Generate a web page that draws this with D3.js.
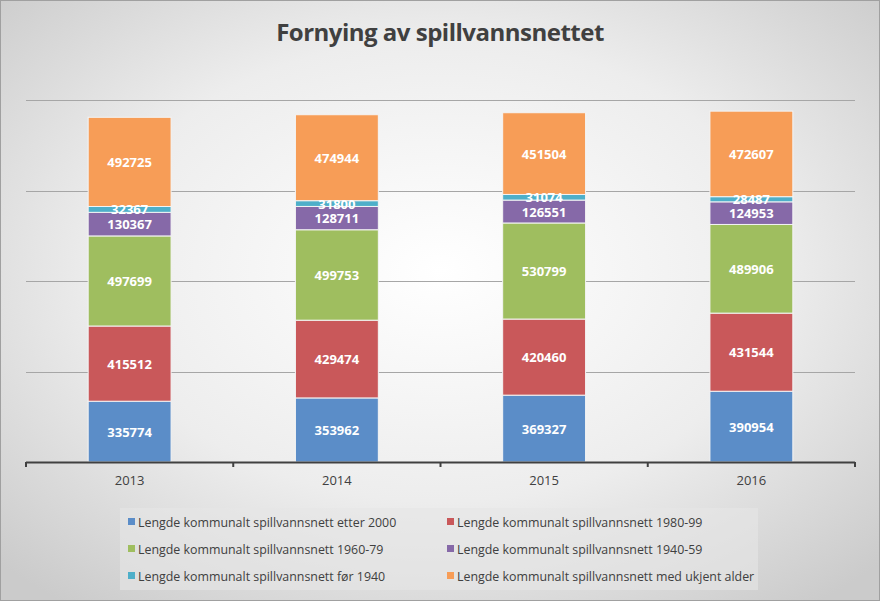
<!DOCTYPE html>
<html><head><meta charset="utf-8">
<script src="https://cdn.jsdelivr.net/npm/d3@7"></script>
<style>body{margin:0;background:#fff}svg{display:block}</style>
</head><body>
<script>
const years = ["2013","2014","2015","2016"];
const seriesNames = [
  "Lengde kommunalt spillvannsnett etter 2000",
  "Lengde kommunalt spillvannsnett 1980-99",
  "Lengde kommunalt spillvannsnett 1960-79",
  "Lengde kommunalt spillvannsnett 1940-59",
  "Lengde kommunalt spillvannsnett før 1940",
  "Lengde kommunalt spillvannsnett med ukjent alder"
];
const etter2000 = [335774, 353962, 369327, 390954];
const s1980 = [415512, 429474, 420460, 431544];
const s1960 = [497699, 499753, 530799, 489906];
const s1940 = [130367, 128711, 126551, 124953];
const for1940 = [32367, 31800, 31074, 28487];
const ukjent = [492725, 474944, 451504, 472607];
const yTicks = [0, 500000, 1000000, 1500000, 2000000];
const colors = ["#5b8dc8","#c9585a","#9fbe5f","#8669a8","#4eafc9","#f79d57"];

const seriesValues = [etter2000, s1980, s1960, s1940, for1940, ukjent];
const W = 880, H = 601;
const svg = d3.select("body").append("svg").attr("width", W).attr("height", H);
const defs = svg.append("defs");
const rg = defs.append("radialGradient").attr("id","bg").attr("cx","50%").attr("cy","45%").attr("r","70%");
rg.append("stop").attr("offset","0%").attr("stop-color","#ffffff");
rg.append("stop").attr("offset","55%").attr("stop-color","#ededed");
rg.append("stop").attr("offset","100%").attr("stop-color","#cbcbcb");
svg.append("rect").attr("x",0.5).attr("y",0.5).attr("width",W-1).attr("height",H-1)
  .attr("fill","url(#bg)").attr("stroke","#a0a0a0");

svg.append("text").attr("x",440).attr("y",41).attr("text-anchor","middle")
  .attr("font-family","'Open Sans', sans-serif").attr("font-weight","bold").attr("font-size",24)
  .attr("fill","#404040").attr("letter-spacing","-0.5").text("Fornying av spillvannsnettet");

const x = d3.scaleBand().domain(years).range([26, 855]).paddingInner(0.6).paddingOuter(0.3);
const y = d3.scaleLinear().domain([0, 2000000]).range([462, 100]);

svg.append("g").selectAll("line").data(yTicks.slice(1)).join("line")
  .attr("x1",26).attr("x2",855).attr("y1",d=>Math.round(y(d))+0.5).attr("y2",d=>Math.round(y(d))+0.5)
  .attr("stroke","#a6a6a6").attr("stroke-width",1);

const table = years.map((yr,i)=>{const o={year:yr}; seriesNames.forEach((s,j)=>o[s]=seriesValues[j][i]); return o;});
const stacked = d3.stack().keys(seriesNames)(table);

const g = svg.append("g");
stacked.forEach((layer,j)=>{
  g.append("g").selectAll("rect").data(layer).join("rect")
    .attr("x",d=>x(d.data.year)).attr("width",x.bandwidth())
    .attr("y",d=>y(d[1])).attr("height",d=>y(d[0])-y(d[1]))
    .attr("fill",colors[j]).attr("stroke","#f4f4f4").attr("stroke-width",1);
});
stacked.forEach((layer,j)=>{
  g.append("g").selectAll("text").data(layer).join("text")
    .attr("x",d=>x(d.data.year)+x.bandwidth()/2)
    .attr("y",d=>(y(d[0])+y(d[1]))/2 + 5)
    .attr("text-anchor","middle").attr("font-family","'Open Sans', sans-serif")
    .attr("font-weight","bold").attr("font-size",13).attr("fill","#ffffff")
    .text(d=>d[1]-d[0]);
});

const ax = svg.append("g");
ax.append("line").attr("x1",26).attr("x2",855).attr("y1",462.5).attr("y2",462.5).attr("stroke","#404040").attr("stroke-width",2);
const step = (855-26)/years.length;
ax.selectAll("line.tk").data(d3.range(years.length+1)).join("line").attr("class","tk")
  .attr("x1",d=>26+d*step).attr("x2",d=>26+d*step).attr("y1",462).attr("y2",467)
  .attr("stroke","#404040").attr("stroke-width",2);
ax.selectAll("text").data(years).join("text")
  .attr("x",d=>x(d)+x.bandwidth()/2).attr("y",485).attr("text-anchor","middle")
  .attr("font-family","'Open Sans', sans-serif").attr("font-size",13).attr("fill","#404040").text(d=>d);

const lg = svg.append("g");
lg.append("rect").attr("x",120).attr("y",508).attr("width",638).attr("height",82).attr("fill","#e6e6e6").attr("opacity",0.6);
seriesNames.forEach((s,j)=>{
  const col = j%2, row = Math.floor(j/2);
  const lx = col===0 ? 128 : 447, ly = 522 + row*27;
  lg.append("rect").attr("x",lx).attr("y",ly-4).attr("width",7).attr("height",7).attr("fill",colors[j]);
  lg.append("text").attr("x",lx+10).attr("y",ly+4.5).attr("font-family","'Open Sans', sans-serif")
    .attr("font-size",12.4).attr("fill","#404040").text(s);
});
</script>
</body></html>
